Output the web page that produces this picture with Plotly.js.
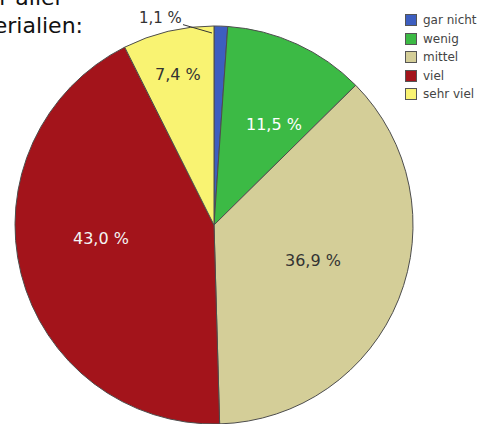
<!DOCTYPE html>
<html>
<head>
<meta charset="utf-8">
<script src="https://cdn.plot.ly/plotly-3.0.1.min.js"></script>
<style>html,body{margin:0;padding:0;background:#fff;}#chart{width:481px;height:424px;}</style>
</head>
<body>
<div id="chart"></div>
<script>
// Data
const categories = ["gar nicht", "wenig", "mittel", "viel", "sehr viel"];
const values = [1.1, 11.5, 36.9, 43.0, 7.4];
const valueLabels = ["1,1 %", "11,5 %", "36,9 %", "43,0 %", "7,4 %"];
const colors = ["#3d5ec0", "#3cba45", "#d4ce98", "#a3141b", "#f9f372"];
const textColors = ["#333333", "#ffffff", "#333333", "#f4f4f4", "#333333"];
const titleLines = ["Bewertung der Nutzer aller", "Lernmaterialien:"];

const W = 481, H = 424;
const cx = 214, cy = 225, r = 199;
const labelFont = "DejaVu Sans";
// label anchor positions in pixels (layout only)
const labelPx = [[212, 33], [274, 124], [313, 260], [101, 238], [178, 75]];

const trace = {
  type: "pie",
  labels: categories,
  values: values,
  textinfo: "none",
  marker: {colors: colors, line: {color: "#4d4d4d", width: 1}},
  sort: false,
  direction: "clockwise",
  rotation: 0,
  showlegend: false,
  domain: {x: [(cx - r) / W, (cx + r) / W], y: [(H - cy - r) / H, (H - cy + r) / H]}
};

const annotations = [
  {xref: "paper", yref: "paper", x: 67 / W, y: 1 + 3 / H, xanchor: "right", yanchor: "middle",
   text: titleLines[0], showarrow: false, font: {family: "DejaVu Sans", size: 22, color: "#111"}}
];
valueLabels.forEach((t, i) => {
  const a = {xref: "paper", yref: "paper", x: labelPx[i][0] / W, y: 1 - labelPx[i][1] / H, text: t,
    font: {family: labelFont, size: i === 0 ? 15 : 16, color: textColors[i]}};
  if (i === 0) {
    Object.assign(a, {showarrow: true, arrowhead: 0, arrowwidth: 1, arrowcolor: "#333", ax: -52, ay: -15, standoff: 0});
  } else {
    Object.assign(a, {showarrow: false, xanchor: "center", yanchor: "middle"});
  }
  annotations.push(a);
});
// compact legend
const legX = 411, legY = 20, legStep = 18.5;
categories.forEach((c, i) => {
  const yy = 1 - (legY + i * legStep) / H;
  annotations.push({xref: "paper", yref: "paper", x: legX / W, y: yy,
    xanchor: "center", yanchor: "middle", text: "", width: 10, height: 10, showarrow: false,
    bgcolor: colors[i], bordercolor: "#555", borderwidth: 1, borderpad: 0});
  annotations.push({xref: "paper", yref: "paper", x: (legX + 10) / W, y: yy,
    xanchor: "left", yanchor: "middle", text: c, showarrow: false,
    font: {family: "DejaVu Sans", size: 12, color: "#444"}});
});

const layout = {
  width: W, height: H,
  margin: {l: 0, r: 0, t: 0, b: 0},
  paper_bgcolor: "#ffffff",
  showlegend: false,
  title: {text: titleLines[1], font: {family: "DejaVu Sans", size: 22, color: "#111"},
          xref: "paper", x: 83 / W, xanchor: "right", yref: "container", y: 1 - 25 / H, yanchor: "middle",
          pad: {t: 0, b: 0, l: 0, r: 0}},
  annotations: annotations
};

Plotly.newPlot("chart", [trace], layout, {displayModeBar: false, staticPlot: true});
</script>
</body>
</html>
